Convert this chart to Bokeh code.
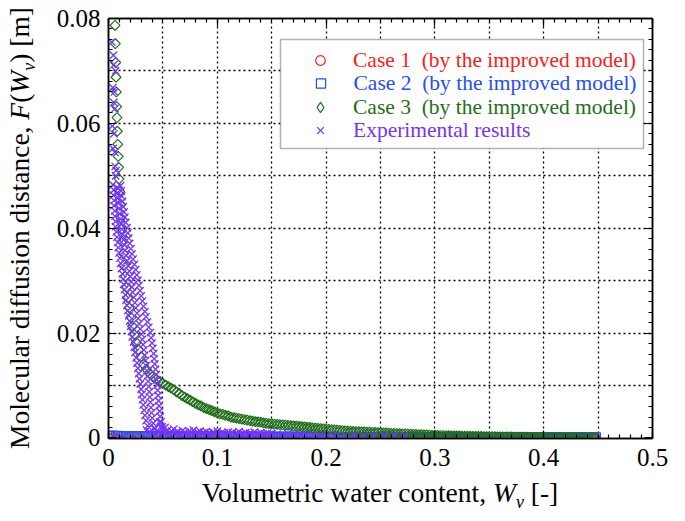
import numpy as np
from bokeh.plotting import figure
from bokeh.models import (FixedTicker, LinearAxis, Legend, LegendItem, Div,
                          BoxAnnotation, Range1d)
from bokeh.layouts import row, column
from bokeh.embed import file_html
from bokeh.resources import INLINE

# ---------------- data ----------------
W_CASE1 = [0.000, 0.005, 0.010, 0.015, 0.020, 0.025, 0.030, 0.035, 0.040, 0.045,
           0.050, 0.055, 0.060, 0.065, 0.070, 0.075, 0.080, 0.085, 0.090, 0.095,
           0.100, 0.105, 0.110, 0.115, 0.120, 0.125, 0.130, 0.135, 0.140, 0.145,
           0.150, 0.155, 0.160, 0.165, 0.170, 0.175, 0.180, 0.185, 0.190, 0.195,
           0.200, 0.205, 0.210, 0.215, 0.220, 0.225, 0.230, 0.235, 0.240, 0.245,
           0.250, 0.255, 0.260, 0.265, 0.270, 0.275, 0.280, 0.285, 0.290, 0.295,
           0.300, 0.305, 0.310, 0.315, 0.320, 0.325, 0.330, 0.335, 0.340, 0.345,
           0.350, 0.355, 0.360, 0.365, 0.370, 0.375, 0.380, 0.385, 0.390, 0.395,
           0.400, 0.405, 0.410, 0.415, 0.420, 0.425, 0.430, 0.435, 0.440, 0.445,
           0.448]
F_CASE1 = [0.00012, 0.00012, 0.00011, 0.00011, 0.00010, 0.00010, 0.00010, 0.00009, 0.00009, 0.00009,
           0.00008, 0.00008, 0.00008, 0.00008, 0.00007, 0.00007, 0.00007, 0.00007, 0.00006, 0.00006,
           0.00006, 0.00006, 0.00006, 0.00005, 0.00005, 0.00005, 0.00005, 0.00005, 0.00004, 0.00004,
           0.00004, 0.00004, 0.00004, 0.00004, 0.00003, 0.00003, 0.00003, 0.00003, 0.00003, 0.00003,
           0.00003, 0.00002, 0.00002, 0.00002, 0.00002, 0.00002, 0.00002, 0.00002, 0.00002, 0.00002,
           0.00001, 0.00001, 0.00001, 0.00001, 0.00001, 0.00001, 0.00001, 0.00001, 0.00001, 0.00001,
           0.00001, 0.00001, 0.00001, 0.00001, 0.00001, 0.00001, 0.00001, 0.00001, 0.00001, 0.00001,
           0.00000, 0.00000, 0.00000, 0.00000, 0.00000, 0.00000, 0.00000, 0.00000, 0.00000, 0.00000,
           0.00000, 0.00000, 0.00000, 0.00000, 0.00000, 0.00000, 0.00000, 0.00000, 0.00000, 0.00000,
           0.00000]

W_CASE2 = [0.0000, 0.0025, 0.0050, 0.0075, 0.0100, 0.0125, 0.0150, 0.0175, 0.0200, 0.0225,
           0.0250, 0.0275, 0.0300, 0.0325, 0.0350, 0.0375, 0.0400, 0.0425, 0.0450, 0.0475,
           0.0500, 0.0525, 0.0550, 0.0575, 0.0600, 0.0625, 0.0650, 0.0675, 0.0700, 0.0725,
           0.0750, 0.0775, 0.0800, 0.0825, 0.0850, 0.0875, 0.0900, 0.0925, 0.0950, 0.0975,
           0.1000, 0.1025, 0.1050, 0.1075, 0.1100, 0.1125, 0.1150, 0.1175, 0.1200, 0.1225,
           0.1250, 0.1275, 0.1300, 0.1325, 0.1350, 0.1375, 0.1400, 0.1425, 0.1450, 0.1475,
           0.1500, 0.1525, 0.1550, 0.1575, 0.1600, 0.1625, 0.1650, 0.1675, 0.1700, 0.1725,
           0.1750, 0.1775, 0.1800, 0.1825, 0.1850, 0.1875, 0.1900, 0.1925, 0.1950, 0.1975,
           0.2000, 0.2025, 0.2050, 0.2075, 0.2100, 0.2125, 0.2150, 0.2175, 0.2200, 0.2225,
           0.2250, 0.2275, 0.2300, 0.2325, 0.2350, 0.2375, 0.2400, 0.2425, 0.2450, 0.2475,
           0.2500, 0.2525, 0.2550, 0.2575, 0.2600, 0.2625, 0.2650, 0.2675, 0.2700, 0.2725,
           0.2750, 0.2775, 0.2800, 0.2825, 0.2850, 0.2875, 0.2900, 0.2925, 0.2950, 0.2975,
           0.3000, 0.3025, 0.3050, 0.3075, 0.3100, 0.3125, 0.3150, 0.3175, 0.3200, 0.3225,
           0.3250, 0.3275, 0.3300, 0.3325, 0.3350, 0.3375, 0.3400, 0.3425, 0.3450, 0.3475,
           0.3500, 0.3525, 0.3550, 0.3575, 0.3600, 0.3625, 0.3650, 0.3675, 0.3700, 0.3725,
           0.3750, 0.3775, 0.3800, 0.3825, 0.3850, 0.3875, 0.3900, 0.3925, 0.3950, 0.3975,
           0.4000, 0.4025, 0.4050, 0.4075, 0.4100, 0.4125, 0.4150, 0.4175, 0.4200, 0.4225,
           0.4250, 0.4275, 0.4300, 0.4325, 0.4350, 0.4375, 0.4400, 0.4425, 0.4450, 0.4475]
F_CASE2 = [0.00030, 0.00030, 0.00029, 0.00029, 0.00028, 0.00028, 0.00027, 0.00027, 0.00026, 0.00026,
           0.00025, 0.00025, 0.00024, 0.00024, 0.00023, 0.00023, 0.00022, 0.00022, 0.00021, 0.00021,
           0.00020, 0.00020, 0.00019, 0.00019, 0.00019, 0.00019, 0.00018, 0.00018, 0.00018, 0.00018,
           0.00017, 0.00017, 0.00017, 0.00017, 0.00016, 0.00016, 0.00016, 0.00016, 0.00015, 0.00015,
           0.00015, 0.00015, 0.00014, 0.00014, 0.00014, 0.00014, 0.00013, 0.00013, 0.00013, 0.00013,
           0.00013, 0.00013, 0.00012, 0.00012, 0.00012, 0.00012, 0.00012, 0.00012, 0.00011, 0.00011,
           0.00011, 0.00011, 0.00011, 0.00011, 0.00010, 0.00010, 0.00010, 0.00010, 0.00010, 0.00010,
           0.00010, 0.00010, 0.00009, 0.00009, 0.00009, 0.00009, 0.00009, 0.00009, 0.00009, 0.00009,
           0.00008, 0.00008, 0.00008, 0.00008, 0.00008, 0.00008, 0.00008, 0.00008, 0.00007, 0.00007,
           0.00007, 0.00007, 0.00007, 0.00007, 0.00007, 0.00007, 0.00007, 0.00007, 0.00007, 0.00006,
           0.00006, 0.00006, 0.00006, 0.00006, 0.00006, 0.00006, 0.00006, 0.00006, 0.00006, 0.00006,
           0.00005, 0.00005, 0.00005, 0.00005, 0.00005, 0.00005, 0.00005, 0.00005, 0.00005, 0.00005,
           0.00005, 0.00005, 0.00004, 0.00004, 0.00004, 0.00004, 0.00004, 0.00004, 0.00004, 0.00004,
           0.00004, 0.00004, 0.00004, 0.00004, 0.00004, 0.00004, 0.00003, 0.00003, 0.00003, 0.00003,
           0.00003, 0.00003, 0.00003, 0.00003, 0.00003, 0.00003, 0.00003, 0.00003, 0.00003, 0.00003,
           0.00003, 0.00003, 0.00003, 0.00003, 0.00003, 0.00003, 0.00002, 0.00002, 0.00002, 0.00002,
           0.00002, 0.00002, 0.00002, 0.00002, 0.00002, 0.00002, 0.00002, 0.00002, 0.00002, 0.00002,
           0.00002, 0.00002, 0.00002, 0.00002, 0.00002, 0.00002, 0.00002, 0.00002, 0.00002, 0.00002]

W_CASE3 = [0.0060, 0.0063, 0.0066, 0.0069, 0.0072, 0.0075, 0.0078, 0.0081, 0.0085, 0.0089,
           0.0093, 0.0097, 0.0102, 0.0108, 0.0114, 0.0120, 0.0127, 0.0135, 0.0144, 0.0154,
           0.0165, 0.0177, 0.0190, 0.0205, 0.0221, 0.0238, 0.0256, 0.0276, 0.0298, 0.0322,
           0.0348, 0.0376, 0.0406, 0.0438, 0.0472,
           0.0500, 0.0525, 0.0550, 0.0575, 0.0600, 0.0625, 0.0650, 0.0675, 0.0700, 0.0725,
           0.0750, 0.0775, 0.0800, 0.0825, 0.0850, 0.0875, 0.0900, 0.0925, 0.0950, 0.0975,
           0.1000, 0.1025, 0.1050, 0.1075, 0.1100, 0.1125, 0.1150, 0.1175, 0.1200, 0.1225,
           0.1250, 0.1275, 0.1300, 0.1325, 0.1350, 0.1375, 0.1400, 0.1425, 0.1450, 0.1475,
           0.1500, 0.1525, 0.1550, 0.1575, 0.1600, 0.1625, 0.1650, 0.1675, 0.1700, 0.1725,
           0.1750, 0.1775, 0.1800, 0.1825, 0.1850, 0.1875, 0.1900, 0.1925, 0.1950, 0.1975,
           0.2000, 0.2025, 0.2050, 0.2075, 0.2100, 0.2125, 0.2150, 0.2175, 0.2200, 0.2225,
           0.2250, 0.2275, 0.2300, 0.2325, 0.2350, 0.2375, 0.2400, 0.2425, 0.2450, 0.2475,
           0.2500, 0.2525, 0.2550, 0.2575, 0.2600, 0.2625, 0.2650, 0.2675, 0.2700, 0.2725,
           0.2750, 0.2775, 0.2800, 0.2825, 0.2850, 0.2875, 0.2900, 0.2925, 0.2950, 0.2975,
           0.3000, 0.3025, 0.3050, 0.3075, 0.3100, 0.3125, 0.3150, 0.3175, 0.3200, 0.3225,
           0.3250, 0.3275, 0.3300, 0.3325, 0.3350, 0.3375, 0.3400, 0.3425, 0.3450, 0.3475,
           0.3500, 0.3525, 0.3550, 0.3575, 0.3600, 0.3625, 0.3650, 0.3675, 0.3700, 0.3725,
           0.3750, 0.3775, 0.3800, 0.3825, 0.3850, 0.3875, 0.3900, 0.3925, 0.3950, 0.3975,
           0.4000, 0.4025, 0.4050, 0.4075, 0.4100, 0.4125, 0.4150, 0.4175, 0.4200, 0.4225,
           0.4250, 0.4275, 0.4300, 0.4325, 0.4350, 0.4375, 0.4400, 0.4425, 0.4450, 0.4475]
F_CASE3 = [0.0787, 0.0752, 0.0716, 0.0688, 0.0660, 0.0632, 0.0611, 0.0585, 0.0560, 0.0537,
           0.0516, 0.0494, 0.0470, 0.0445, 0.0420, 0.0398, 0.0375, 0.0352, 0.0330, 0.0308,
           0.0287, 0.0267, 0.0248, 0.0230, 0.0213, 0.0197, 0.0182, 0.0168, 0.0155, 0.0140,
           0.0131, 0.0123, 0.0117, 0.0112, 0.0108,
           0.0104, 0.0101, 0.0098, 0.0095, 0.0092, 0.0088, 0.0085, 0.0081, 0.0078, 0.0075,
           0.0072, 0.0069, 0.0066, 0.0063, 0.0061, 0.0058, 0.0056, 0.0054, 0.0052, 0.0050,
           0.0048, 0.0046, 0.0045, 0.0043, 0.0042, 0.0040, 0.0039, 0.0038, 0.0037, 0.0036,
           0.0035, 0.0034, 0.0033, 0.0032, 0.0031, 0.00305, 0.0030, 0.0029, 0.0028, 0.00275,
           0.0027, 0.00265, 0.0026, 0.00255, 0.0025, 0.00245, 0.0024, 0.00235, 0.0023, 0.00225,
           0.0022, 0.00215, 0.0021, 0.00205, 0.0020, 0.00195, 0.0019, 0.00185, 0.0018, 0.00175,
           0.0017, 0.00165, 0.0016, 0.00155, 0.0015, 0.00145, 0.0014, 0.00135, 0.0013, 0.00128,
           0.00125, 0.00122, 0.0012, 0.00118, 0.00115, 0.00112, 0.0011, 0.00108, 0.00105, 0.00102,
           0.0010, 0.00098, 0.00095, 0.00092, 0.0009, 0.00088, 0.00085, 0.00082, 0.0008, 0.00078,
           0.00075, 0.00072, 0.0007, 0.00068, 0.00065, 0.00062, 0.0006, 0.00058, 0.00055, 0.00052,
           0.0005, 0.00048, 0.00047, 0.00046, 0.00045, 0.00044, 0.00042, 0.00041, 0.0004, 0.00038,
           0.00037, 0.00036, 0.00035, 0.00034, 0.00032, 0.00031, 0.0003, 0.00029, 0.00028, 0.00027,
           0.00026, 0.00025, 0.00024, 0.00023, 0.00022, 0.00021, 0.0002, 0.0002, 0.00019, 0.00018,
           0.00017, 0.00016, 0.00016, 0.00015, 0.00014, 0.00013, 0.00013, 0.00012, 0.00011, 0.0001,
           0.0001, 0.00009, 0.00009, 0.00008, 0.00008, 0.00007, 0.00007, 0.00006, 0.00006, 0.00005,
           0.00005, 0.00004, 0.00004, 0.00003, 0.00003, 0.00002, 0.00002, 0.00001, 0.00001, 0.0]

EXP_W = [0.0030, 0.0045, 0.0050, 0.0065, 0.0040, 0.0055, 0.0048, 0.0060, 0.0035, 0.0050,
         0.0042, 0.0058, 0.0062, 0.0070, 0.0066,
         0.0040, 0.0078, 0.0110, 0.0048, 0.0082, 0.0115, 0.0045, 0.0088, 0.0122,
         0.0052, 0.0092, 0.0128, 0.0050, 0.0098, 0.0135, 0.0058, 0.0103, 0.0142,
         0.0060, 0.0110, 0.0150, 0.0065, 0.0116, 0.0158, 0.0065, 0.0122, 0.0170,
         0.0072, 0.0130, 0.0178, 0.0078, 0.0138, 0.0185, 0.0085, 0.0145, 0.0195,
         0.0090, 0.0152, 0.0205, 0.0098, 0.0162, 0.0215, 0.0105, 0.0170, 0.0225,
         0.0112, 0.0182, 0.0238, 0.0120, 0.0192, 0.0250, 0.0128, 0.0200, 0.0260,
         0.0135, 0.0208, 0.0270, 0.0140, 0.0215, 0.0280, 0.0148, 0.0222, 0.0290,
         0.0155, 0.0232, 0.0300, 0.0162, 0.0242, 0.0312, 0.0170, 0.0250, 0.0322,
         0.0178, 0.0262, 0.0335, 0.0188, 0.0272, 0.0345, 0.0195, 0.0282, 0.0358,
         0.0205, 0.0292, 0.0370, 0.0212, 0.0302, 0.0385, 0.0220, 0.0310, 0.0392,
         0.0230, 0.0318, 0.0400, 0.0238, 0.0325, 0.0408, 0.0245, 0.0332, 0.0415,
         0.0255, 0.0340, 0.0420, 0.0262, 0.0345, 0.0425, 0.0270, 0.0352, 0.0432,
         0.0278, 0.0358, 0.0438, 0.0285, 0.0365, 0.0442, 0.0292, 0.0370, 0.0448,
         0.0300, 0.0375, 0.0452, 0.0305, 0.0380, 0.0456, 0.0312, 0.0385, 0.0460,
         0.0320, 0.0390, 0.0465, 0.0328, 0.0395, 0.0470, 0.0335, 0.0402, 0.0475,
         0.0345, 0.0412, 0.0482, 0.0360, 0.0428, 0.0495,
         0.0380, 0.0420, 0.0440, 0.0460, 0.0480, 0.0520, 0.0015, 0.0350, 0.0470,
         0.050, 0.052, 0.054, 0.056, 0.058, 0.060, 0.062, 0.064, 0.066, 0.068,
         0.070, 0.072, 0.074, 0.076, 0.078, 0.080, 0.082, 0.084, 0.086, 0.088,
         0.090, 0.092, 0.094, 0.096, 0.098, 0.100, 0.102, 0.104, 0.106, 0.108,
         0.110, 0.112, 0.114, 0.116, 0.118, 0.120, 0.122, 0.124, 0.126, 0.128,
         0.130, 0.132, 0.134, 0.136, 0.138, 0.140, 0.142, 0.144, 0.146, 0.148,
         0.150,
         0.155, 0.160, 0.165, 0.170, 0.176, 0.182, 0.188, 0.195, 0.202, 0.210,
         0.218, 0.226, 0.235, 0.244, 0.254, 0.263, 0.272]
EXP_F = [0.0755, 0.0730, 0.0712, 0.0700, 0.0668, 0.0660, 0.0640, 0.0628, 0.0595, 0.0580,
         0.0552, 0.0545, 0.0518, 0.0510, 0.0500,
         0.0483, 0.0478, 0.0481, 0.0473, 0.0468, 0.0471, 0.0463, 0.0458, 0.0461,
         0.0453, 0.0448, 0.0451, 0.0443, 0.0438, 0.0441, 0.0433, 0.0428, 0.0431,
         0.0423, 0.0418, 0.0421, 0.0413, 0.0408, 0.0411, 0.0403, 0.0398, 0.0401,
         0.0393, 0.0388, 0.0391, 0.0383, 0.0378, 0.0381, 0.0373, 0.0368, 0.0371,
         0.0363, 0.0358, 0.0361, 0.0353, 0.0348, 0.0351, 0.0343, 0.0338, 0.0341,
         0.0333, 0.0328, 0.0331, 0.0323, 0.0318, 0.0321, 0.0313, 0.0308, 0.0311,
         0.0303, 0.0298, 0.0301, 0.0293, 0.0288, 0.0291, 0.0283, 0.0278, 0.0281,
         0.0273, 0.0268, 0.0271, 0.0263, 0.0258, 0.0261, 0.0253, 0.0248, 0.0251,
         0.0243, 0.0238, 0.0241, 0.0233, 0.0228, 0.0231, 0.0223, 0.0218, 0.0221,
         0.0213, 0.0208, 0.0211, 0.0203, 0.0198, 0.0201, 0.0193, 0.0188, 0.0191,
         0.0183, 0.0178, 0.0181, 0.0173, 0.0168, 0.0171, 0.0163, 0.0158, 0.0161,
         0.0153, 0.0148, 0.0151, 0.0143, 0.0138, 0.0141, 0.0133, 0.0128, 0.0131,
         0.0123, 0.0118, 0.0121, 0.0113, 0.0108, 0.0111, 0.0103, 0.0098, 0.0101,
         0.0093, 0.0088, 0.0091, 0.0083, 0.0078, 0.0081, 0.0073, 0.0068, 0.0071,
         0.0063, 0.0058, 0.0061, 0.0053, 0.0048, 0.0051, 0.0043, 0.0038, 0.0041,
         0.0033, 0.0028, 0.0031, 0.0023, 0.0018, 0.0021,
         0.0012, 0.0018, 0.0008, 0.0012, 0.0022, 0.0020, 0.0000, 0.0015, 0.0030,
         0.0016, 0.0011, 0.0014, 0.0009, 0.0013, 0.0017, 0.0010, 0.0012, 0.0008, 0.0014,
         0.0011, 0.0007, 0.0013, 0.0010, 0.0015, 0.0008, 0.0011, 0.0013, 0.0007, 0.0010,
         0.0012, 0.0009, 0.0006, 0.0011, 0.0008, 0.0013, 0.0007, 0.0010, 0.0009, 0.0006,
         0.0011, 0.0008, 0.0010, 0.0006, 0.0009, 0.0012, 0.0007, 0.0008, 0.0010, 0.0006,
         0.0009, 0.0007, 0.0011, 0.0006, 0.0008, 0.0010, 0.0007, 0.0005, 0.0009, 0.0007,
         0.0008,
         0.0007, 0.0005, 0.0008, 0.0006, 0.0007, 0.0005, 0.0006, 0.0004, 0.0006, 0.0005,
         0.0004, 0.0006, 0.0004, 0.0005, 0.0004, 0.0005, 0.0004]

SERIES_LABELS = ["Case 1  (by the improved model)",
                 "Case 2  (by the improved model)",
                 "Case 3  (by the improved model)",
                 "Experimental results"]

X_TICKS = [0, 0.1, 0.2, 0.3, 0.4, 0.5]
X_TICK_LABELS = ["0", "0.1", "0.2", "0.3", "0.4", "0.5"]
Y_TICKS = [0, 0.02, 0.04, 0.06, 0.08]
Y_TICK_LABELS = ["0", "0.02", "0.04", "0.06", "0.08"]
X_GRID = [0.05, 0.1, 0.15, 0.2, 0.25, 0.3, 0.35, 0.4, 0.45]
Y_GRID = [0.01, 0.02, 0.03, 0.04, 0.05, 0.06, 0.07]
X_MINOR = [round(i * 0.01, 2) for i in range(51)]
Y_MINOR = [round(i * 0.002, 3) for i in range(41)]

# ---------------- layout / style ----------------
RED = "#ff1a1a"
BLUE = "#1f4cff"
GREEN = "#1f6e1a"
PURPLE = "#7433ff"
FONT = "Liberation Serif"

PAGE_W, PAGE_H = 669, 505
YT_W = 36                 # width of the y-title strip
PH = 478                  # plot canvas height
FL, FR, FT, FB = 108, 652, 18, 438          # frame edges in page px

p = figure(width=PAGE_W - YT_W, height=PH,
           x_range=Range1d(0.0, 0.5), y_range=Range1d(-0.0001, 0.08),
           output_backend="svg", toolbar_location=None, margin=0,
           min_border_left=FL - YT_W, min_border_right=PAGE_W - FR,
           min_border_top=FT, min_border_bottom=PH - FB)
p.background_fill_color = "white"
p.border_fill_color = "white"
p.outline_line_color = "black"
p.outline_line_width = 1.5

p.xgrid.ticker = FixedTicker(ticks=X_GRID)
p.ygrid.ticker = FixedTicker(ticks=Y_GRID)
for g in (p.xgrid, p.ygrid):
    g.grid_line_color = "black"
    g.grid_line_dash = "2 3"
    g.grid_line_width = 1.3


def style_axis(ax, show):
    ax.axis_line_color = "black"
    ax.axis_line_width = 1.5
    ax.major_tick_in = 8
    ax.major_tick_out = 0
    ax.minor_tick_in = 4
    ax.minor_tick_out = 0
    ax.major_tick_line_color = "black"
    ax.minor_tick_line_color = "black"
    ax.major_tick_line_width = 1.2
    ax.minor_tick_line_width = 1.2
    ax.axis_label = None
    if show:
        ax.major_label_text_font = FONT
        ax.major_label_text_font_size = "25px"
        ax.major_label_text_color = "black"
    else:
        ax.major_label_text_font_size = "1px"
        ax.major_label_text_color = None
        ax.major_label_standoff = 0


p.xaxis.ticker = FixedTicker(ticks=X_TICKS, minor_ticks=X_MINOR)
p.yaxis.ticker = FixedTicker(ticks=Y_TICKS, minor_ticks=Y_MINOR)
style_axis(p.xaxis[0], True)
style_axis(p.yaxis[0], True)
p.xaxis.major_label_overrides = dict(zip(X_TICKS, X_TICK_LABELS))
p.yaxis.major_label_overrides = dict(zip(Y_TICKS, Y_TICK_LABELS))
p.xaxis.major_label_standoff = 10
p.yaxis.major_label_standoff = 8

top_ax = LinearAxis(ticker=FixedTicker(ticks=X_TICKS, minor_ticks=X_MINOR))
right_ax = LinearAxis(ticker=FixedTicker(ticks=Y_TICKS, minor_ticks=Y_MINOR))
style_axis(top_ax, False)
style_axis(right_ax, False)
p.add_layout(top_ax, "above")
p.add_layout(right_ax, "right")

# ---------------- data marks ----------------
r1 = p.scatter(W_CASE1, F_CASE1, marker="circle", size=9, line_color=RED,
               fill_color=None, line_width=1.2)
r2 = p.scatter(W_CASE2, F_CASE2, marker="square", size=10, line_color=BLUE,
               fill_color=None, line_width=1.2)
r3 = p.scatter(W_CASE3, F_CASE3, marker="square", angle=np.pi / 4, size=7,
               line_color=GREEN, fill_color=None, line_width=1.2)
r4 = p.scatter(EXP_W, EXP_F, marker="x", size=10.5, line_color=PURPLE, line_width=1.3)
# legend key for Case 3: same data, drawn only in the legend (legends draw markers unrotated)
r3_key = p.scatter(W_CASE3, F_CASE3, marker="diamond", line_color=GREEN,
                   fill_color=None, line_width=1.2, visible=False)

# ---------------- legend ----------------
box = BoxAnnotation(left=172, right=535, bottom=290, top=399,
                    left_units="screen", right_units="screen",
                    bottom_units="screen", top_units="screen",
                    fill_color="white", fill_alpha=1.0,
                    line_color="black", line_width=1.5)
p.add_layout(box)

GLYPH_CX = 212     # legend marker centre, px from frame left
TEXT_X = 245       # legend text start, px from frame left
ROW_CY = [378, 355, 331, 308]   # row centres, px from frame bottom
ROW_H = 26
specs = [(r1, RED, 24), (r2, BLUE, 23), (r3_key, GREEN, 26), (r4, PURPLE, 24)]
for (rend, col, gw), lab, cy in zip(specs, SERIES_LABELS, ROW_CY):
    vx = GLYPH_CX - gw / 2
    leg = Legend(items=[LegendItem(label=lab, renderers=[rend])],
                 location=(vx, cy - ROW_H / 2),
                 glyph_width=gw, glyph_height=ROW_H, label_height=ROW_H,
                 label_standoff=int(round(TEXT_X - (vx + gw))),
                 padding=0, margin=0, spacing=0,
                 border_line_alpha=0, background_fill_alpha=0,
                 inactive_fill_alpha=0,
                 label_text_font=FONT, label_text_font_size="21.5px",
                 label_text_color=col)
    p.add_layout(leg)

# ---------------- axis titles (rich text: italic W, subscript v) ----------------
X_TITLE = ('Volumetric water content, <i>W</i>'
           '<i style="font-size:18px;position:relative;top:6px;line-height:0">v</i> [-]')
Y_TITLE = ('Molecular diffusion distance, <i>F</i>(<i>W</i>'
           '<i style="font-size:18px;position:relative;top:6px;line-height:0">v</i>) [m]')

xdiv = Div(width=PAGE_W, height=PAGE_H - PH, margin=0,
           text=(f'<div style="margin-left:{FL}px;width:{FR - FL}px;text-align:center;'
                 f'font-family:\'{FONT}\';font-size:27.5px;line-height:29px;'
                 f'white-space:nowrap;color:black">{X_TITLE}</div>'))

mid_from_bottom = PH - (FT + FB) / 2
pad = int(round(2 * mid_from_bottom - PH))
ydiv = Div(width=YT_W, height=PH, margin=0,
           text=(f'<div style="width:{PH}px;height:{YT_W}px;box-sizing:border-box;'
                 f'padding-left:{pad}px;transform-origin:0 0;'
                 f'transform:translate(0px,{PH}px) rotate(-90deg);text-align:center;'
                 f'font-family:\'{FONT}\';font-size:27.5px;line-height:40px;'
                 f'white-space:nowrap;color:black">{Y_TITLE}</div>'))

layout = column(row(ydiv, p, spacing=0, margin=0), xdiv, spacing=0, margin=0)

open("out.html", "w").write(file_html(layout, INLINE))
